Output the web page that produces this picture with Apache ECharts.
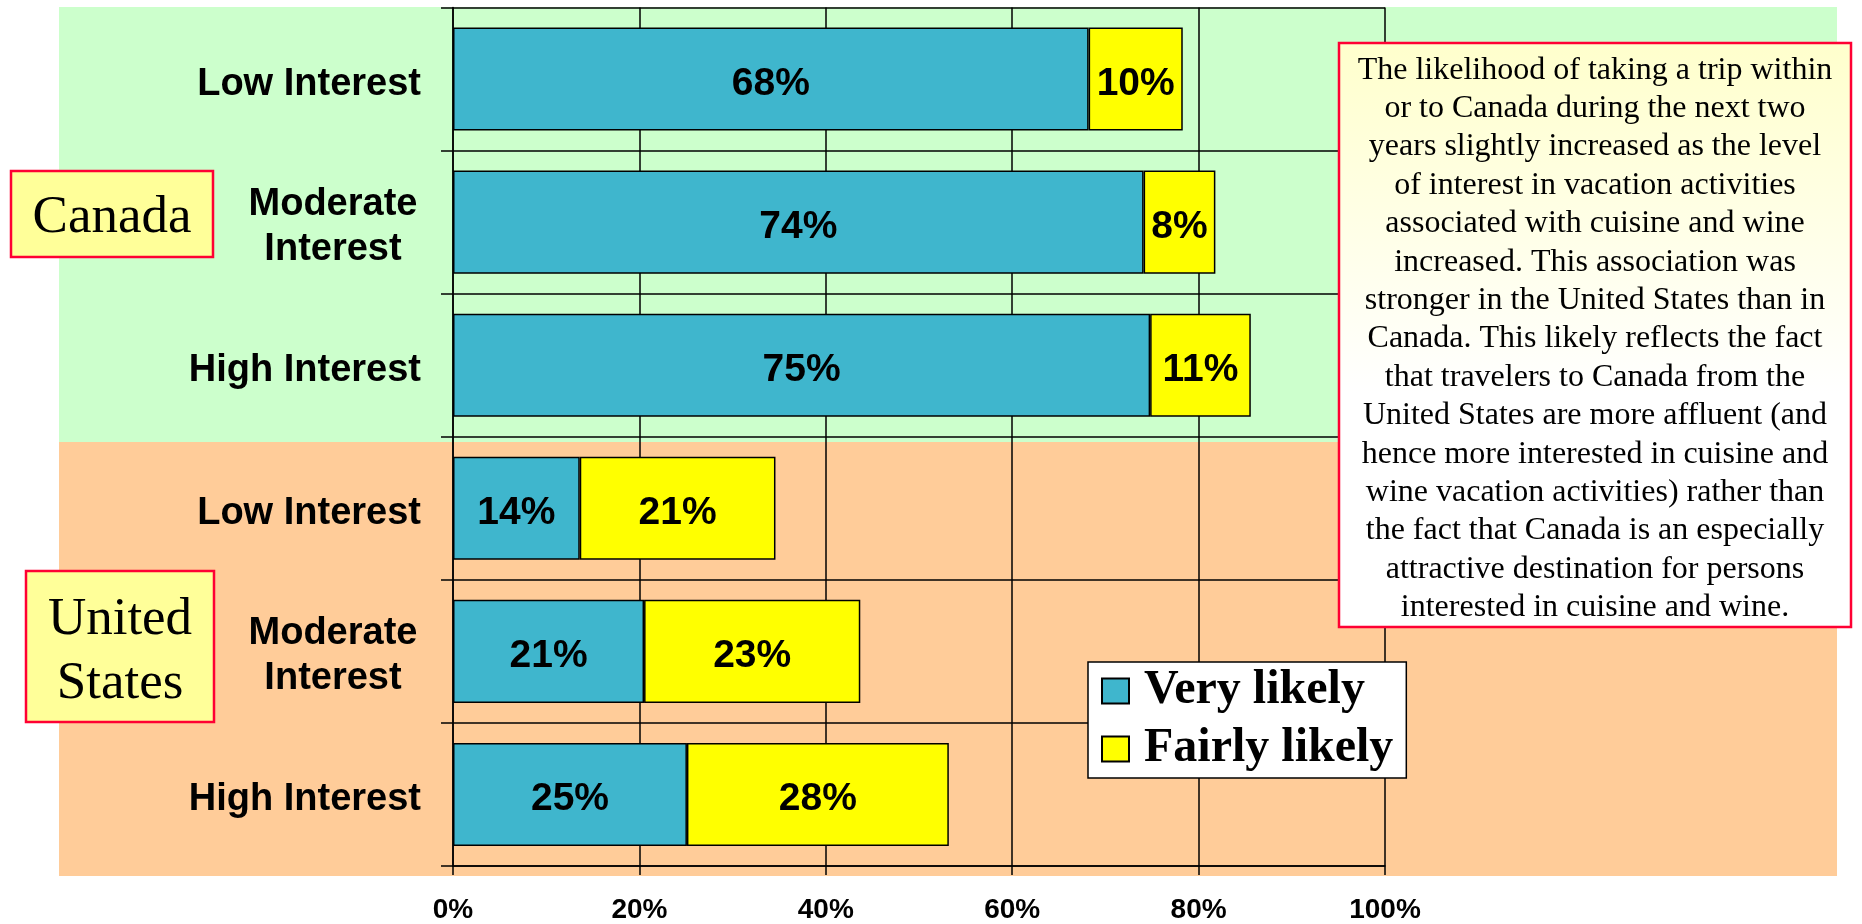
<!DOCTYPE html>
<html>
<head lang="en">
    <meta charset="UTF-8">
    <title>Trip likelihood by interest</title>
    <script src="https://cdn.jsdelivr.net/npm/echarts@6/dist/echarts.min.js"></script>
    <style>
        html, body { margin: 0; padding: 0; background: #fff; }
        #chart { width: 1862px; height: 924px; }
    </style>
</head>
<body>
<div id="chart"></div>
<script>
    // categories, top to bottom (key is unique, label is what gets shown)
    var catKeys = ['ca_low', 'ca_mod', 'ca_high', 'us_low', 'us_mod', 'us_high'];
    var catLabels = ['Low Interest', 'Moderate\nInterest', 'High Interest',
                     'Low Interest', 'Moderate\nInterest', 'High Interest'];

    var veryLikely = [68.2, 74.1, 74.8, 13.6, 20.5, 25.1];
    var fairlyLikely = [10.1, 7.7, 10.8, 21.0, 23.2, 28.1];

    var xTicks = [0, 20, 40, 60, 80, 100];

    var noteLines = [
        'The likelihood of taking a trip within',
        'or to Canada during the next two',
        'years slightly increased as the level',
        'of interest in vacation activities',
        'associated with cuisine and wine',
        'increased. This association was',
        'stronger in the United States than in',
        'Canada. This likely reflects the fact',
        'that travelers to Canada from the',
        'United States are more affluent (and',
        'hence more interested in cuisine and',
        'wine vacation activities) rather than',
        'the fact that Canada is an especially',
        'attractive destination for persons',
        'interested in cuisine and wine.'
    ];

    var chart = echarts.init(document.getElementById('chart'));

    var sans = '"Liberation Sans", Arial, sans-serif';
    var serif = '"Liberation Serif", "Times New Roman", serif';

    function pctLabel(p) {
        return Math.round(p.value) + '%';
    }

    var option = {
        animation: false,
        backgroundColor: '#fff',
        grid: { left: 453, right: 477, top: 7.5, bottom: 53, containLabel: false },
        legend: {
            orient: 'vertical',
            left: 1088,
            top: 662,
            backgroundColor: '#fff',
            borderColor: '#000',
            borderWidth: 1.5,
            borderRadius: 0,
            padding: [1, 13, 1, 13],
            itemWidth: 27,
            itemHeight: 25,
            itemGap: 2,
            icon: 'rect',
            textStyle: {
                fontFamily: serif, fontWeight: 'bold', fontSize: 48,
                lineHeight: 44, color: '#000', padding: [12, 0, 0, 10]
            },
            data: ['Very likely', 'Fairly likely']
        },
        xAxis: {
            type: 'value',
            min: xTicks[0],
            max: xTicks[xTicks.length - 1],
            interval: 20,
            axisLine: { show: true, lineStyle: { color: '#000', width: 1.5 } },
            axisTick: { show: true, length: 9, lineStyle: { color: '#000', width: 1.5 } },
            splitLine: { show: true, lineStyle: { color: '#000', width: 1.5 } },
            axisLabel: {
                margin: 30, color: '#000', fontFamily: sans, fontWeight: 'bold', fontSize: 28,
                formatter: '{value}%'
            }
        },
        yAxis: {
            type: 'category',
            inverse: true,
            data: catKeys,
            axisLine: { show: true, lineStyle: { color: '#000', width: 1.5 } },
            axisTick: { show: true, length: 12, lineStyle: { color: '#000', width: 1.5 } },
            splitLine: { show: true, lineStyle: { color: '#000', width: 1.5 } },
            axisLabel: {
                margin: 32, color: '#000', fontFamily: sans, fontWeight: 'bold', fontSize: 38,
                lineHeight: 45, padding: [10, 0, 0, 0],
                formatter: function (v, i) {
                    var lab = catLabels[i];
                    if (lab.indexOf('\n') >= 0) {
                        return lab.split('\n').map(function (s) { return '{c|' + s + '}'; }).join('\n');
                    }
                    return lab;
                },
                rich: {
                    c: {
                        width: 176, align: 'center', color: '#000', fontFamily: sans,
                        fontWeight: 'bold', fontSize: 38, lineHeight: 45
                    }
                }
            }
        },
        series: [
            {
                name: 'Very likely',
                type: 'bar',
                stack: 'all',
                barCategoryGap: '28%',
                data: veryLikely,
                itemStyle: { color: '#3FB6CD', borderColor: '#000', borderWidth: 1.5 },
                label: {
                    show: true, position: 'inside', offset: [0, 5], color: '#000', fontFamily: sans,
                    fontWeight: 'bold', fontSize: 39, formatter: pctLabel
                }
            },
            {
                name: 'Fairly likely',
                type: 'bar',
                stack: 'all',
                barCategoryGap: '28%',
                data: fairlyLikely,
                itemStyle: { color: '#FFFF00', borderColor: '#000', borderWidth: 1.5 },
                label: {
                    show: true, position: 'inside', offset: [0, 5], color: '#000', fontFamily: sans,
                    fontWeight: 'bold', fontSize: 39, formatter: pctLabel
                }
            }
        ],
        graphic: [
            // background bands
            { type: 'rect', z: -10, silent: true, shape: { x: 59, y: 7, width: 1778, height: 435 },
              style: { fill: '#CCFFCC' } },
            { type: 'rect', z: -10, silent: true, shape: { x: 59, y: 442, width: 1778, height: 434 },
              style: { fill: '#FFCC99' } },
            // country boxes
            { type: 'rect', z: 10, shape: { x: 11, y: 171, width: 202, height: 86 },
              style: { fill: '#FFFF99', stroke: '#FF0033', lineWidth: 2.5 } },
            { type: 'text', z: 11, x: 112, y: 218,
              style: { text: 'Canada', fill: '#000', font: 'normal 53px ' + serif,
                       textAlign: 'center', textVerticalAlign: 'middle' } },
            { type: 'rect', z: 10, shape: { x: 26, y: 571, width: 188, height: 151 },
              style: { fill: '#FFFF99', stroke: '#FF0033', lineWidth: 2.5 } },
            { type: 'text', z: 11, x: 120, y: 652,
              style: { text: 'United\nStates', fill: '#000', font: 'normal 53px ' + serif,
                       lineHeight: 64, textAlign: 'center', textVerticalAlign: 'middle' } },
            // note box
            { type: 'rect', z: 10, shape: { x: 1339, y: 43, width: 512, height: 584 },
              style: {
                  fill: new echarts.graphic.LinearGradient(0, 0, 0, 1, [
                      { offset: 0, color: '#FFFFCC' },
                      { offset: 0.6, color: '#FFFFFF' },
                      { offset: 1, color: '#FFFFFF' }
                  ]),
                  stroke: '#FF0033', lineWidth: 2.5
              } },
            { type: 'text', z: 11, x: 1595, y: 339,
              style: { text: noteLines.join('\n'), fill: '#000', font: 'normal 32px ' + serif,
                       lineHeight: 38.4, textAlign: 'center', textVerticalAlign: 'middle' } }
        ]
    };

    chart.setOption(option);
</script>
</body>
</html>
